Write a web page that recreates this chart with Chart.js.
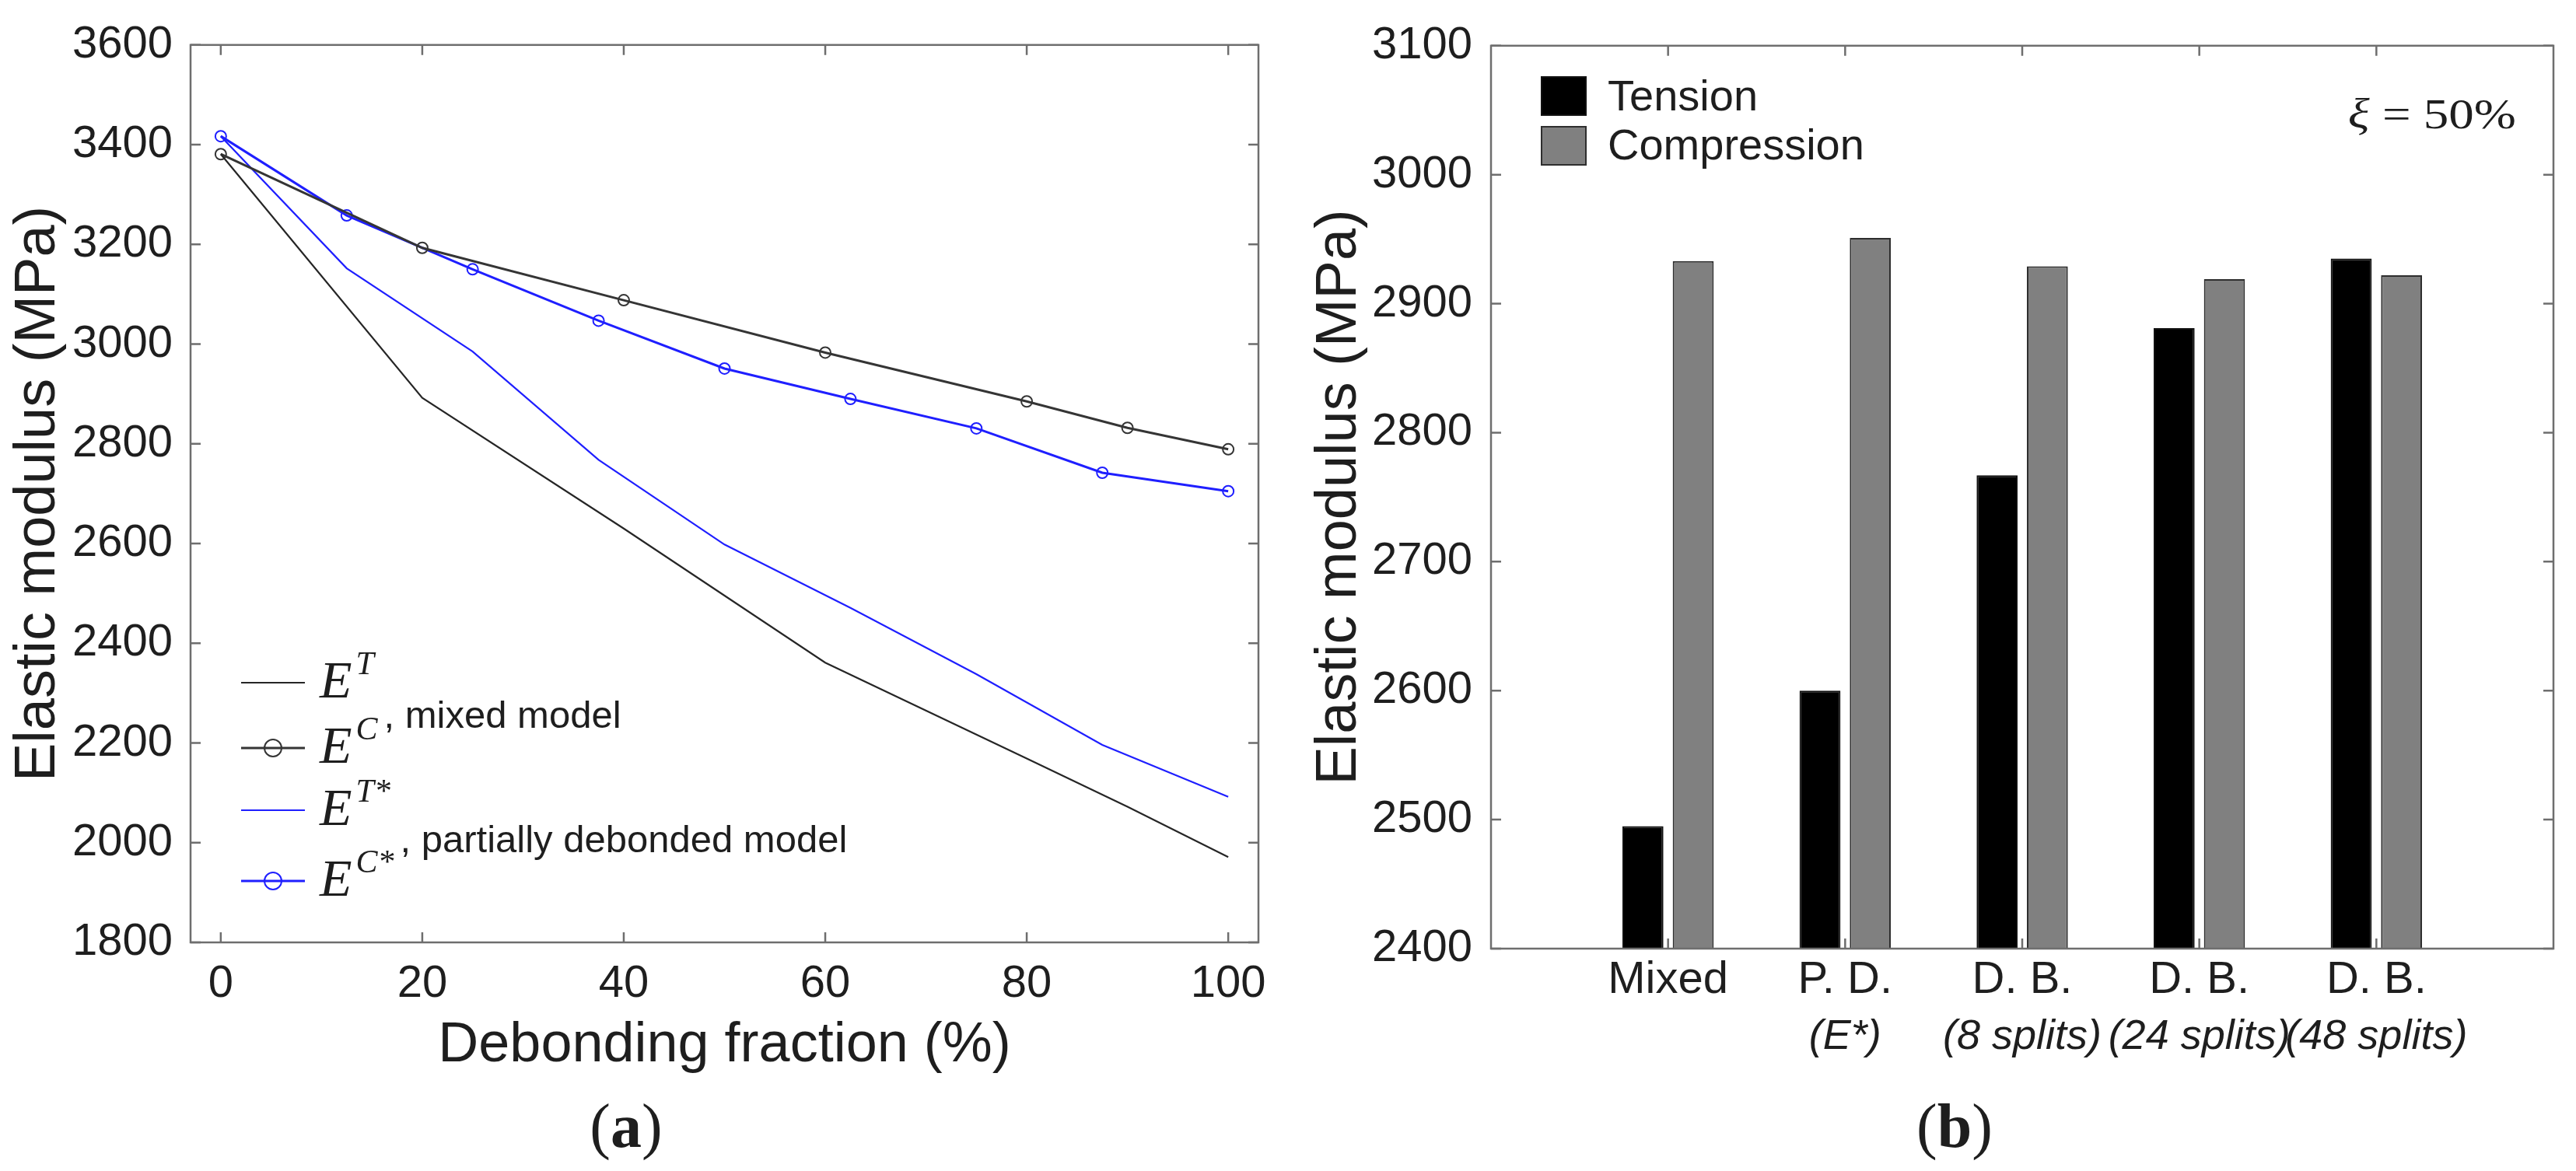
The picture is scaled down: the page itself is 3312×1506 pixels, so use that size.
<!DOCTYPE html>
<html>
<head>
<meta charset="utf-8">
<title>Elastic modulus - debonding</title>
<script src="https://cdn.jsdelivr.net/npm/chart.js@4.4.1/dist/chart.umd.min.js"></script>
<style>
  html, body { margin: 0; padding: 0; background: #fff; }
  body { width: 3312px; height: 1506px; position: relative; overflow: hidden; }
  .panel { position: absolute; top: 0; width: 1656px; height: 1506px; }
  #panelA { left: 0; }
  #panelB { left: 1656px; }
</style>
</head>
<body>
<div class="panel" id="panelA"><canvas id="chartA"></canvas></div>
<div class="panel" id="panelB"><canvas id="chartB"></canvas></div>
<script>
// (a) elastic modulus (MPa) against debonding fraction (%)
const mixedFraction = [0, 20, 40, 60, 80, 90, 100];
const mixedTension = [3381, 2892, 2630, 2361, 2169, 2072, 1971];
const mixedCompression = [3381, 3193, 3088, 2983, 2885, 2832, 2789];

const partialFraction = [0, 12.5, 25, 37.5, 50, 62.5, 75, 87.5, 100];
const partialTension = [3417, 3152, 2985, 2768, 2598, 2471, 2338, 2196, 2092];
const partialCompression = [3417, 3258, 3150, 3047, 2951, 2890, 2831, 2742, 2705];

const fractionTicks = [0, 20, 40, 60, 80, 100];

// (b) xi = 50%
const models = ["Mixed", "P. D.", "D. B.", "D. B.", "D. B."];
const modelNotes = ["", "(E*)", "(8 splits)", "(24 splits)", "(48 splits)"];
const barTension = [2495, 2600, 2767, 2881, 2935];
const barCompression = [2933, 2951, 2929, 2919, 2922];

const SANS = '"Liberation Sans", Arial, sans-serif';
const SERIF = '"Liberation Serif", "Times New Roman", serif';
const textColor = "#1e1e1e";
const frameColor = "#6e6e6e";

// write a row of differently styled pieces of text
function drawRuns(ctx, runs, x, y, align) {
    let total = 0;
    runs.forEach(function(r){
        ctx.font = r.font;
        r.w = ctx.measureText(r.text).width + (r.gap || 0);
        total += r.w;
    });
    let cx = align === "center" ? x - total / 2 : (align === "right" ? x - total : x);
    ctx.textAlign = "left";
    runs.forEach(function(r){
        ctx.font = r.font;
        ctx.fillText(r.text, cx, y + (r.dy || 0));
        cx += r.w;
    });
    return cx;
}

// matlab like box with ticks pointing inwards
const boxTicks = {
    id: "boxTicks",
    afterDatasetsDraw(chart, args, opts) {
        const ctx = chart.ctx;
        const a = chart.chartArea;
        const sx = chart.scales.x;
        const sy = chart.scales.y;
        ctx.save();
        ctx.strokeStyle = frameColor;
        ctx.lineWidth = 2.5;
        ctx.beginPath();
        sx.ticks.forEach(function(t, i){
            if (opts.skipEmpty && t.label === "") return;
            const px = sx.getPixelForTick(i);
            ctx.moveTo(px, a.bottom); ctx.lineTo(px, a.bottom - opts.len);
            ctx.moveTo(px, a.top); ctx.lineTo(px, a.top + opts.len);
        });
        sy.ticks.forEach(function(t, i){
            const py = sy.getPixelForTick(i);
            ctx.moveTo(a.left, py); ctx.lineTo(a.left + opts.len, py);
            ctx.moveTo(a.right, py); ctx.lineTo(a.right - opts.len, py);
        });
        ctx.stroke();
        ctx.strokeRect(a.left, a.top, a.right - a.left, a.bottom - a.top);
        ctx.restore();
    }
};

// legend of (a), with the model names written between the rows
const legendBaselines = [897, 981, 1061, 1152];
const legendNotes = [null, ", mixed model", null, ", partially debonded model"];
const noteBaselines = [0, 936, 0, 1096];

const legendA = {
    id: "legendA",
    afterDraw(chart) {
        const ctx = chart.ctx;
        ctx.save();
        ctx.fillStyle = textColor;
        ctx.textBaseline = "alphabetic";
        chart.data.datasets.forEach(function(ds, i){
            const base = legendBaselines[i];
            const ly = base - 19;
            ctx.strokeStyle = ds.borderColor;
            ctx.lineWidth = ds.borderWidth;
            ctx.beginPath(); ctx.moveTo(310, ly); ctx.lineTo(392, ly); ctx.stroke();
            if (ds.pointRadius > 0) {
                ctx.lineWidth = ds.pointBorderWidth;
                ctx.beginPath(); ctx.arc(351, ly, 11, 0, 2 * Math.PI); ctx.stroke();
            }
            const end = drawRuns(ctx, [
                {text: "E", font: "italic 68px " + SERIF, gap: 5},
                {text: ds.legendSup, font: "italic 42px " + SERIF, dy: -30}
            ], 411, base, "left");
            if (legendNotes[i]) {
                drawRuns(ctx, [{text: legendNotes[i], font: "49px " + SANS}], end + 8, noteBaselines[i], "left");
            }
        });
        drawRuns(ctx, [
            {text: "(", font: "80px " + SERIF},
            {text: "a", font: "bold 80px " + SERIF},
            {text: ")", font: "80px " + SERIF}
        ], 805, 1475, "center");
        ctx.restore();
    }
};

// legend, xi label and panel label of (b)
const legendB = {
    id: "legendB",
    afterDraw(chart) {
        const ctx = chart.ctx;
        ctx.save();
        ctx.textBaseline = "alphabetic";
        chart.data.datasets.forEach(function(ds, i){
            const top = 99 + i * 64;
            ctx.fillStyle = ds.backgroundColor;
            ctx.fillRect(326, top, 57, 49);
            ctx.strokeStyle = ds.borderColor;
            ctx.lineWidth = 2;
            ctx.strokeRect(326, top, 57, 49);
            ctx.fillStyle = textColor;
            drawRuns(ctx, [{text: ds.label, font: "56px " + SANS}], 411, 142 + i * 63, "left");
        });
        ctx.fillStyle = textColor;
        ctx.save();
        ctx.translate(1579, 165);
        ctx.scale(1.3, 1.08);
        drawRuns(ctx, [
            {text: "\u03BE", font: "italic 50px " + SERIF},
            {text: " = 50%", font: "50px " + SERIF}
        ], 0, 0, "right");
        ctx.restore();
        drawRuns(ctx, [
            {text: "(", font: "80px " + SERIF},
            {text: "b", font: "bold 80px " + SERIF},
            {text: ")", font: "80px " + SERIF}
        ], 857, 1475, "center");
        ctx.restore();
    }
};

function points(xs, ys) {
    return xs.map(function(x, i){ return {x: x, y: ys[i]}; });
}

const blue = "#1f1fff";

new Chart(document.querySelector("#chartA"), {
    type: "line",
    data: {
        datasets: [
            {
                label: "E^T", legendSup: "T",
                data: points(mixedFraction, mixedTension),
                borderColor: "#262626", borderWidth: 2.2, pointRadius: 0
            },
            {
                label: "E^C, mixed model", legendSup: "C",
                data: points(mixedFraction, mixedCompression),
                borderColor: "#353535", borderWidth: 3,
                pointRadius: 7, pointBorderWidth: 2,
                pointBorderColor: "#353535", pointBackgroundColor: "rgba(0,0,0,0)"
            },
            {
                label: "E^T*", legendSup: "T*",
                data: points(partialFraction, partialTension),
                borderColor: blue, borderWidth: 2.2, pointRadius: 0
            },
            {
                label: "E^C*, partially debonded model", legendSup: "C*",
                data: points(partialFraction, partialCompression),
                borderColor: blue, borderWidth: 3,
                pointRadius: 7, pointBorderWidth: 2,
                pointBorderColor: blue, pointBackgroundColor: "rgba(0,0,0,0)"
            }
        ]
    },
    options: {
        responsive: true,
        maintainAspectRatio: false,
        animation: false,
        devicePixelRatio: 1,
        layout: { padding: { left: 0, top: 51, right: 38, bottom: 114 } },
        elements: { line: { tension: 0 } },
        plugins: {
            legend: { display: false },
            tooltip: { enabled: false },
            boxTicks: { len: 13 }
        },
        scales: {
            x: {
                type: "linear",
                min: -3,
                max: 103,
                afterBuildTicks: function(s){ s.ticks = fractionTicks.map(function(v){ return {value: v}; }); },
                afterFit: function(s){ s.height = 180; },
                grid: { display: false, drawTicks: false },
                border: { display: false },
                ticks: {
                    color: textColor, padding: 19, maxRotation: 0,
                    font: { family: SANS, size: 58, lineHeight: 1.2 },
                    callback: function(v){ return String(v); }
                },
                title: {
                    display: true, text: "Debonding fraction (%)", color: textColor,
                    font: { family: SANS, size: 72, lineHeight: 1 },
                    padding: { top: 0, bottom: 11 }
                }
            },
            y: {
                min: 1800,
                max: 3600,
                afterFit: function(s){ s.width = 245; },
                grid: { display: false, drawTicks: false },
                border: { display: false },
                ticks: {
                    stepSize: 200, color: textColor, padding: 23,
                    font: { family: SANS, size: 58 },
                    callback: function(v){ return String(v); }
                },
                title: {
                    display: true, text: "Elastic modulus (MPa)", color: textColor,
                    font: { family: SANS, size: 74, lineHeight: 1 },
                    padding: { top: 13, bottom: 0 }
                }
            }
        }
    },
    plugins: [boxTicks, legendA]
});

// an empty slot on each side, as on the original axis
const slotLabels = [""].concat(models, [""]);
const slotNotes = [""].concat(modelNotes, [""]);

new Chart(document.querySelector("#chartB"), {
    type: "bar",
    data: {
        labels: slotLabels,
        datasets: [
            {
                label: "Tension",
                data: [null].concat(barTension, [null]),
                backgroundColor: "#000000", borderColor: "#111111", borderWidth: 2,
                base: 2400
            },
            {
                label: "Compression",
                data: [null].concat(barCompression, [null]),
                backgroundColor: "#808080", borderColor: "#2e2e2e", borderWidth: 2,
                base: 2400
            }
        ]
    },
    options: {
        responsive: true,
        maintainAspectRatio: false,
        animation: false,
        devicePixelRatio: 1,
        layout: { padding: { left: 0, top: 48, right: 29, bottom: 136 } },
        datasets: { bar: { categoryPercentage: 0.568, barPercentage: 0.815 } },
        plugins: {
            legend: { display: false },
            tooltip: { enabled: false },
            boxTicks: { len: 13, skipEmpty: true }
        },
        scales: {
            x: {
                offset: false,
                afterFit: function(s){ s.height = 70; },
                grid: { display: false, drawTicks: false },
                border: { display: false },
                ticks: {
                    color: textColor, padding: 6, maxRotation: 0, autoSkip: false,
                    font: { family: SANS, size: 58, lineHeight: 1.2 }
                }
            },
            x2: {
                type: "category",
                labels: slotNotes,
                position: "bottom",
                offset: false,
                afterFit: function(s){ s.height = 80; },
                grid: { display: false, drawTicks: false },
                border: { display: false },
                ticks: {
                    color: textColor, padding: 12, maxRotation: 0, autoSkip: false,
                    font: { family: SANS, size: 54, style: "italic", lineHeight: 1.2 }
                }
            },
            y: {
                min: 2400,
                max: 3100,
                afterFit: function(s){ s.width = 261; },
                grid: { display: false, drawTicks: false },
                border: { display: false },
                ticks: {
                    stepSize: 100, color: textColor, padding: 24,
                    font: { family: SANS, size: 58 },
                    callback: function(v){ return String(v); }
                },
                title: {
                    display: true, text: "Elastic modulus (MPa)", color: textColor,
                    font: { family: SANS, size: 74, lineHeight: 1 },
                    padding: { top: 30, bottom: 0 }
                }
            }
        }
    },
    plugins: [boxTicks, legendB]
});
</script>
</body>
</html>
